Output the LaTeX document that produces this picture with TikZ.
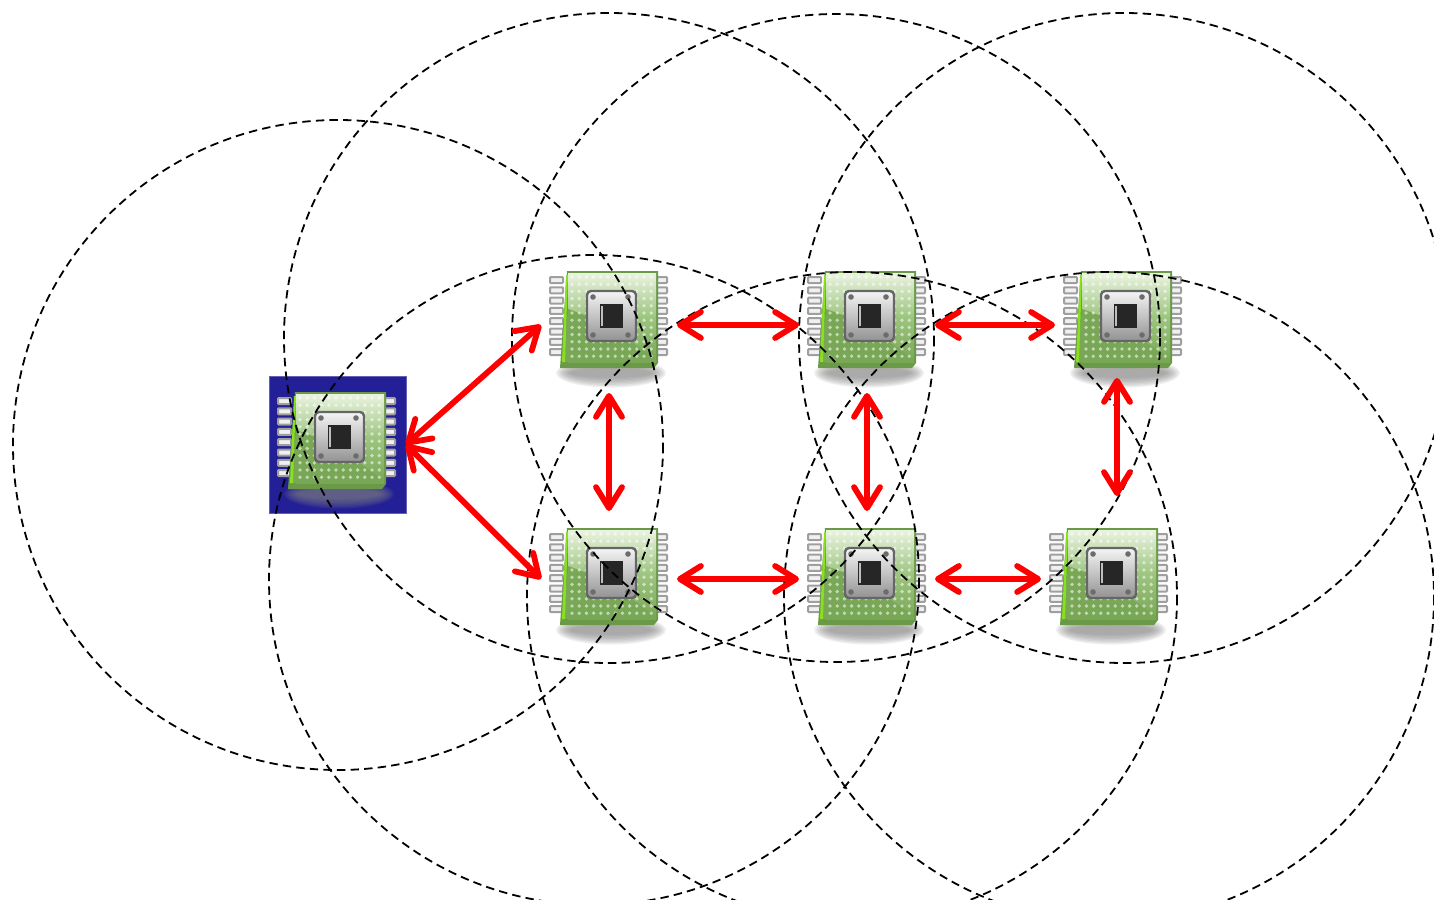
\documentclass[tikz,border=0pt]{standalone}
\usetikzlibrary{arrows.meta}
\definecolor{chipblue}{HTML}{231F97}
\definecolor{chipedge}{HTML}{6A9A48}
\definecolor{chiptop}{HTML}{EAF3E0}
\definecolor{chipmid}{HTML}{9CC47E}
\definecolor{chiplow}{HTML}{78A756}
\tikzset{
  x=0.5pt,y=-0.5pt,
  chipbox/.style={minimum size=68pt,inner sep=0pt,outer sep=0pt},
  bluebox/.style={minimum size=68.5pt,inner sep=0pt,outer sep=0pt,fill=chipblue,draw=chipblue!70!white,line width=0.3pt},
  radiorange/.style={draw=black,line width=0.9pt,dash pattern=on 4.2pt off 2.6pt},
  link/.style={draw=red,line width=2.9pt,{Straight Barb[length=10.5pt,width=13pt,round]}-{Straight Barb[length=10.5pt,width=13pt,round]}},
  pinshape/.style={fill=white!88!gray,draw=gray!75!white,line width=1pt,rounded corners=0.4pt},
  chip/.pic={
    % soft shadow
    \foreach \k in {1,...,8}{
      \fill[gray,fill opacity=0.13] (2,54) ellipse ({57-2*\k} and {16-1.4*\k});
    }
    % pins
    \foreach \k in {0,...,7}{
      \path[pinshape] (-59,-42+10.3*\k) rectangle (-46,-36+10.3*\k);
      \path[pinshape] (48,-42+10.3*\k) rectangle (58,-36+10.3*\k);
    }
    % body
    \fill[chipedge] (-42,-48) -- (49,-48) -- (49,44) -- (45,49) -- (-49,49) -- cycle;
    \fill[top color=chiptop,bottom color=chiplow,middle color=chipmid] (-41,-46) rectangle (47,43);
    \fill[chiplow] (-41,-10) -- (-8,2) -- (47,40) -- (47,43) -- (-46,43) -- cycle;
    \fill[green!45!yellow!75!gray] (-43,-44) -- (-41,-44) -- (-44,43) -- (-47,43) -- cycle;
    % solder dots
    \foreach \i in {0,...,11}{
      \foreach \j in {0,...,11}{
        \fill[white,fill opacity=0.55] (-37+7.2*\i,-42+7.2*\j) circle (1.9);
      }
    }
    % die
    \fill[rounded corners=2pt,top color=white!92!gray,bottom color=gray!85!white,draw=gray!80!black,line width=1.2pt] (-22,-28) rectangle (27,22);
    \fill[black!85] (-9,-15) rectangle (14,9);
    \fill[gray!50] (-8,-13) rectangle (-6,7);
    \foreach \a/\b in {-16/-22,19/-22,-16/16,19/16}{
      \fill[gray!85!black] (\a,\b) circle (2.8);
    }
  }
}
\begin{document}
\begin{tikzpicture}
\useasboundingbox (0,0) rectangle (1434,899);
\clip (0,0) rectangle (1434,899);
% chips (connector anchors are the node borders)
\node[bluebox] (c1) at (337.5,444.5) {};
\node[chipbox] (c2) at (609,325) {};
\node[chipbox] (c3) at (867,325) {};
\node[chipbox] (c4) at (1123,325) {};
\node[chipbox] (c5) at (609,579) {};
\node[chipbox] (c6) at (867,579) {};
\node[chipbox] (c7) at (1109,579) {};
\pic at (337,440) {chip};
\pic at (609,319) {chip};
\pic at (867,319) {chip};
\pic at (1123,319) {chip};
\pic at (609,576) {chip};
\pic at (867,576) {chip};
\pic at (1109,576) {chip};
% radio ranges
\path[radiorange] (338,445) circle [radius=325];
\path[radiorange] (609,338) circle [radius=325];
\path[radiorange] (836,338) circle [radius=324];
\path[radiorange] (1124,338) circle [radius=325];
\path[radiorange] (594,580) circle [radius=325];
\path[radiorange] (852,597) circle [radius=325];
\path[radiorange] (1109,597) circle [radius=325];
% links
\draw[link] (c1.east) -- (c2.west);
\draw[link] (c1.east) -- (c5.west);
\draw[link] (c2.east) -- (c3.west);
\draw[link] (c3.east) -- (c4.west);
\draw[link] (c5.east) -- (c6.west);
\draw[link] (c6.east) -- (c7.west);
\draw[link] (c2.south) -- (c5.north);
\draw[link] (c3.south) -- (c6.north);
\draw[link] ([xshift=-3pt,yshift=7.5pt]c4.south) -- ([xshift=4pt,yshift=7.5pt]c7.north);
\end{tikzpicture}
\end{document}
